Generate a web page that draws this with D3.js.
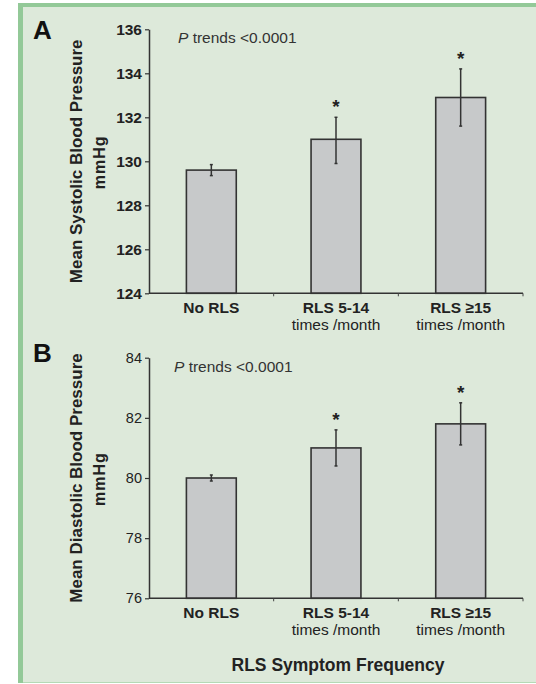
<!DOCTYPE html>
<meta charset="utf-8">
<body style="margin:0;background:#fff;">
<svg width="536" height="684"></svg>
<script src="https://d3js.org/d3.v7.min.js"></script>
<script>

// data
var categories = ["No RLS", "RLS 5-14", "RLS \u226515"];
var categorySub = ["", "times /month", "times /month"];
var significant = [false, true, true];

var systolicMean = [129.6, 131.0, 132.9];
var systolicLow  = [129.35, 129.9, 131.6];
var systolicHigh = [129.85, 132.0, 134.2];
var systolicTicks = [124, 126, 128, 130, 132, 134, 136];

var diastolicMean = [80.0, 81.0, 81.8];
var diastolicLow  = [79.9, 80.4, 81.1];
var diastolicHigh = [80.1, 81.6, 82.5];
var diastolicTicks = [76, 78, 80, 82, 84];

var font = "'Liberation Sans', Arial, sans-serif";
var ink = "#222";

var svg = d3.select("svg");

// green frame
svg.append('rect').attr('x', 18).attr('y', 3).attr('width', 530).attr('height', 680)
   .attr('fill', '#93c998');
svg.append('rect').attr('x', 23).attr('y', 7).attr('width', 520).attr('height', 675)
   .attr('fill', '#dde9da');
svg.append('line').attr('x1', 23).attr('x2', 536).attr('y1', 682.5).attr('y2', 682.5)
   .attr('stroke', '#b5d9b5').attr('stroke-width', 1);

var x = d3.scaleBand()
          .domain(categories)
          .range([149, 523])
          .paddingInner(0.6)
          .paddingOuter(0.3);

function drawPanel(opt) {
  var g = svg.append('g');
  var y = d3.scaleLinear().domain(opt.domain).range([opt.bottom, opt.top]);
  var rows = categories.map(function(c, i) {
    return {cat: c, sub: categorySub[i], mean: opt.mean[i], lo: opt.low[i], hi: opt.high[i], sig: significant[i]};
  });

  // bars
  g.selectAll('rect.bar').data(rows).enter().append('rect')
   .attr('class', 'bar')
   .attr('x', function(d) { return x(d.cat); })
   .attr('y', function(d) { return y(d.mean); })
   .attr('width', x.bandwidth())
   .attr('height', function(d) { return opt.bottom - y(d.mean); })
   .attr('fill', '#c7c9ca')
   .attr('stroke', '#333')
   .attr('stroke-width', 1.6);

  // error bars
  var eb = g.selectAll('g.err').data(rows).enter().append('g')
            .attr('transform', function(d) { return 'translate(' + (x(d.cat) + x.bandwidth() / 2) + ',0)'; });
  eb.append('line')
    .attr('y1', function(d) { return y(d.lo); })
    .attr('y2', function(d) { return y(d.hi); })
    .attr('stroke', '#333').attr('stroke-width', 1.5);
  eb.append('line').attr('x1', -1.5).attr('x2', 1.5)
    .attr('y1', function(d) { return y(d.hi); }).attr('y2', function(d) { return y(d.hi); })
    .attr('stroke', '#333').attr('stroke-width', 1.5);
  eb.append('line').attr('x1', -1.5).attr('x2', 1.5)
    .attr('y1', function(d) { return y(d.lo); }).attr('y2', function(d) { return y(d.lo); })
    .attr('stroke', '#333').attr('stroke-width', 1.5);
  eb.filter(function(d) { return d.sig; }).append('text')
    .attr('y', function(d) { return y(d.hi) - 15 + 11; })
    .attr('text-anchor', 'middle')
    .style('font-family', font).style('font-size', '19px').style('font-weight', 'bold')
    .attr('fill', ink)
    .text('*');

  // y axis
  var yAxis = g.append('g').attr('transform', 'translate(149,0)')
               .call(d3.axisLeft(y).tickValues(opt.ticks).tickSize(4).tickSizeOuter(0).tickPadding(3));
  yAxis.select('.domain').attr('stroke', '#333').attr('stroke-width', 1.5);
  yAxis.selectAll('line').attr('stroke', '#333').attr('stroke-width', 1.2);
  yAxis.selectAll('text').attr('fill', ink)
       .style('font-family', font).style('font-size', opt.tickSize)
       .style('font-weight', opt.tickWeight);

  // x axis
  g.append('line').attr('x1', 149).attr('x2', 523)
   .attr('y1', opt.bottom).attr('y2', opt.bottom)
   .attr('stroke', '#333').attr('stroke-width', 1.5);
  g.selectAll('line.xt').data(categories.slice(1).concat(['end'])).enter().append('line')
   .attr('class', 'xt')
   .attr('x1', function(d, i) { return 149 + x.step() * (i + 1); })
   .attr('x2', function(d, i) { return 149 + x.step() * (i + 1); })
   .attr('y1', opt.bottom).attr('y2', opt.bottom + 3)
   .attr('stroke', '#444').attr('stroke-width', 1);

  var lab = g.selectAll('g.xl').data(rows).enter().append('g')
             .attr('transform', function(d) { return 'translate(' + (x(d.cat) + x.bandwidth() / 2) + ',' + opt.bottom + ')'; });
  lab.append('text').attr('y', 20).attr('text-anchor', 'middle')
     .style('font-family', font).style('font-size', '15.5px').style('font-weight', 'bold')
     .attr('fill', ink).text(function(d) { return d.cat; });
  lab.append('text').attr('y', 37).attr('text-anchor', 'middle')
     .style('font-family', font).style('font-size', '15.5px')
     .attr('fill', ink).text(function(d) { return d.sub; });

  // y title
  var mid = (opt.top + opt.bottom) / 2;
  g.append('text')
   .attr('transform', 'translate(82,' + mid + ') rotate(-90)')
   .attr('text-anchor', 'middle')
   .style('font-family', font).style('font-size', '17px').style('font-weight', 'bold')
   .attr('fill', ink).text(opt.title);
  g.append('text')
   .attr('transform', 'translate(105,' + (mid + 1) + ') rotate(-90)')
   .attr('text-anchor', 'middle')
   .style('font-family', font).style('font-size', '16px').style('font-weight', 'bold')
   .style('letter-spacing', '1px')
   .attr('fill', ink).text('mmHg');

  // panel letter
  g.append('text').attr('x', 33).attr('y', opt.letterY)
   .style('font-family', font).style('font-size', '26px').style('font-weight', 'bold')
   .attr('fill', '#111').text(opt.letter);

  // trend text
  var t = g.append('text').attr('x', opt.pX).attr('y', opt.pY)
           .style('font-family', font).style('font-size', '15.5px').attr('fill', '#333');
  t.append('tspan').style('font-style', 'italic').text('P');
  t.append('tspan').text(' trends <0.0001');
}

drawPanel({
  letter: 'A', letterY: 39,
  title: 'Mean Systolic Blood Pressure',
  domain: [124, 136], ticks: systolicTicks,
  top: 29.3, bottom: 293.3,
  mean: systolicMean, low: systolicLow, high: systolicHigh,
  tickSize: '15.5px', tickWeight: 'bold',
  pX: 178, pY: 43
});

drawPanel({
  letter: 'B', letterY: 362,
  title: 'Mean Diastolic Blood Pressure',
  domain: [76, 84], ticks: diastolicTicks,
  top: 357.7, bottom: 598.3,
  mean: diastolicMean, low: diastolicLow, high: diastolicHigh,
  tickSize: '14.5px', tickWeight: 'normal',
  pX: 174, pY: 372
});

// shared x title
svg.append('text').attr('x', 338).attr('y', 671).attr('text-anchor', 'middle')
   .style('font-family', font).style('font-size', '17.5px').style('font-weight', 'bold')
   .attr('fill', ink).text('RLS Symptom Frequency');

</script>
</body>
